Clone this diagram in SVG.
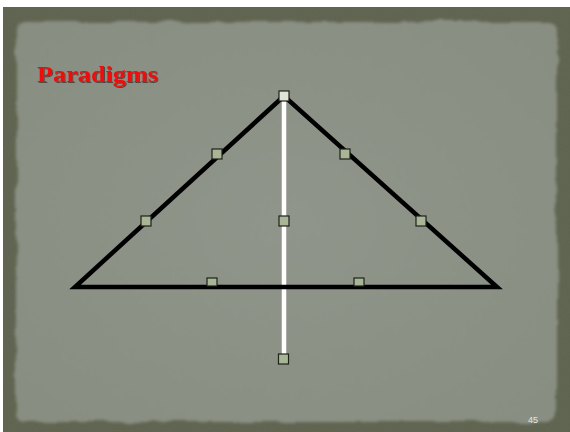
<svg xmlns="http://www.w3.org/2000/svg" width="570" height="432" viewBox="0 0 570 432">
  <defs>
    <filter id="rough" x="-5%" y="-5%" width="110%" height="110%">
      <feTurbulence type="fractalNoise" baseFrequency="0.035" numOctaves="3" seed="4" result="n"/>
      <feDisplacementMap in="SourceGraphic" in2="n" scale="7" xChannelSelector="R" yChannelSelector="G" result="d"/>
      <feGaussianBlur in="d" stdDeviation="1.4"/>
    </filter>
    <filter id="grain" x="0" y="0" width="100%" height="100%">
      <feTurbulence type="fractalNoise" baseFrequency="0.5" numOctaves="2" seed="7" result="t"/>
      <feColorMatrix in="t" type="matrix" values="0 0 0 0 0  0 0 0 0 0  0 0 0 0 0  0 0 0 0.12 0" result="d"/>
      <feComposite in="d" in2="SourceGraphic" operator="in" result="dd"/>
      <feMerge><feMergeNode in="SourceGraphic"/><feMergeNode in="dd"/></feMerge>
    </filter>
    <filter id="shadow" x="-10%" y="-20%" width="120%" height="140%">
      <feDropShadow dx="1" dy="1" stdDeviation="0.4" flood-color="#3a2a20" flood-opacity="0.7"/>
    </filter>
    <radialGradient id="panelGrad" cx="50%" cy="50%" r="65%">
      <stop offset="0" stop-color="#90958b"/>
      <stop offset="1" stop-color="#898e82"/>
    </radialGradient>
  </defs>
  <style>
    .tri { fill: none; stroke: #000; stroke-width: 4.5; stroke-linejoin: miter; stroke-linecap: butt; }
    .axis { stroke: #fff; stroke-width: 4.5; }
    .handle { fill: #a8b696; stroke: #1e201a; stroke-width: 1.2; }
    .title { font-family: "Liberation Serif", "DejaVu Serif", serif; font-weight: bold; font-size: 24px; fill: #ee1111; }
    .pnum { font-family: "Liberation Sans", "DejaVu Sans", sans-serif; font-size: 9px; fill: #e6e8e0; }
  </style>

  <rect x="0" y="0" width="570" height="432" fill="#ffffff"/>
  <g id="background">
    <rect x="3" y="7" width="567" height="425" fill="#636955" filter="url(#grain)"/>
    <rect x="16" y="22" width="541" height="400" rx="8" fill="url(#panelGrad)" filter="url(#rough)"/>
  </g>

  <text id="title" class="title" x="37" y="82" textLength="121" lengthAdjust="spacingAndGlyphs" filter="url(#shadow)">Paradigms</text>

  <g id="connectors">
    <line id="axis" class="axis" x1="284" y1="97" x2="284" y2="356"/>
    <polygon id="triangle" class="tri" points="284,96 75,287 497,287"/>
  </g>

  <g id="handles">
    <rect id="h-top" class="handle" x="279" y="91" width="10" height="10" style="fill:#dfe5d6"/>
    <rect id="h-left-upper" class="handle" x="212" y="149" width="10" height="10"/>
    <rect id="h-left-lower" class="handle" x="141" y="216" width="10" height="10"/>
    <rect id="h-center" class="handle" x="279" y="216" width="10" height="10"/>
    <rect id="h-right-upper" class="handle" x="340" y="149" width="10" height="10"/>
    <rect id="h-right-lower" class="handle" x="416" y="216" width="10" height="10"/>
    <rect id="h-base-left" class="handle" x="207" y="278" width="10" height="8"/>
    <rect id="h-base-right" class="handle" x="354" y="278" width="10" height="8"/>
    <rect id="h-bottom" class="handle" x="278.5" y="354" width="10" height="10"/>
  </g>

  <text id="page-number" class="pnum" x="528" y="423">45</text>
</svg>
